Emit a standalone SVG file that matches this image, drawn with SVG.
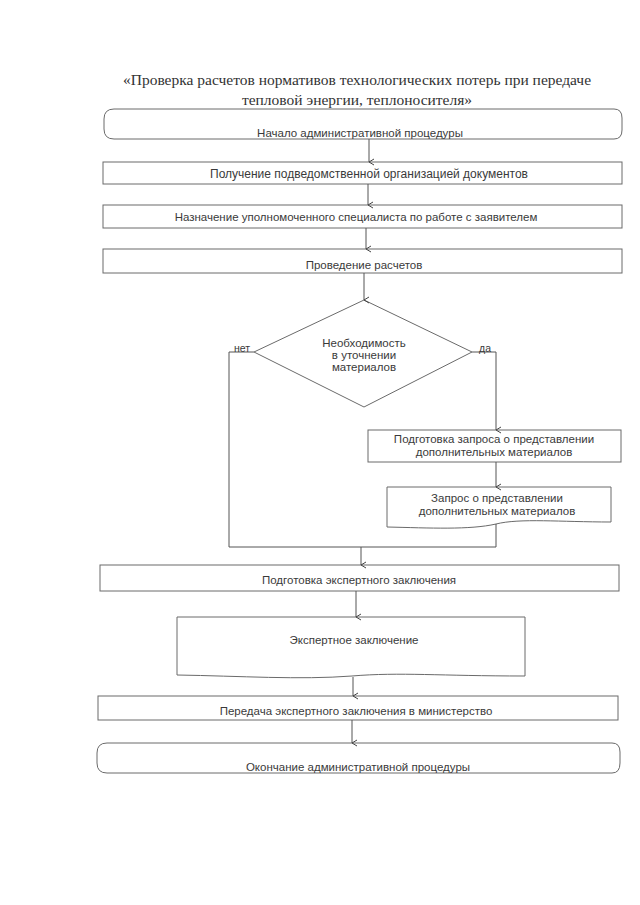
<svg xmlns="http://www.w3.org/2000/svg" width="640" height="905" viewBox="0 0 640 905">
<style>
.box{fill:none;stroke:#6a6a6a;stroke-width:1}
.t{font-family:"Liberation Sans",Arial,sans-serif;font-size:11.5px;fill:#3a3a3a;text-anchor:middle}
.title{font-family:"Liberation Serif","Times New Roman",serif;font-size:15.5px;fill:#333;text-anchor:middle}
.c{fill:none;stroke:#555;stroke-width:1}
</style>
<defs>
<marker id="ar" markerWidth="8" markerHeight="8" refX="4" refY="7" orient="auto" markerUnits="userSpaceOnUse" viewBox="0 0 8 8">
<path d="M1,2 L4,7 L7,2" fill="none" stroke="#444" stroke-width="1"/>
</marker>
</defs>
<rect width="640" height="905" fill="#fff"/>
<g id="title">
<text class="title" x="357" y="85">«Проверка расчетов нормативов технологических потерь при передаче</text>
<text class="title" x="357" y="105">тепловой энергии, теплоносителя»</text>
</g>
<g id="start">
<path class="box" d="M114,109 H614 Q622,109 622,118 V130 Q622,139 614,139 H114 Q104,139 104,129 V119 Q104,109 114,109 Z"/>
<text class="t" x="360" y="137">Начало административной процедуры</text>
</g>
<g id="n2">
<rect class="box" x="103" y="162" width="519" height="22"/>
<text class="t" x="369" y="178" style="font-size:12px">Получение подведомственной организацией документов</text>
</g>
<g id="n3">
<rect class="box" x="103" y="205" width="519" height="23"/>
<text class="t" x="356" y="221">Назначение уполномоченного специалиста по работе с заявителем</text>
</g>
<g id="n4">
<rect class="box" x="103" y="249" width="519" height="24"/>
<text class="t" x="364" y="269">Проведение расчетов</text>
</g>
<g id="decision">
<polygon class="box" points="364,300 472,352 364,407 254,352"/>
<text class="t" x="364" y="347">Необходимость</text>
<text class="t" x="364" y="359">в уточнении</text>
<text class="t" x="364" y="371">материалов</text>
</g>
<g id="n5">
<rect class="box" x="368" y="430" width="253" height="32"/>
<text class="t" x="494" y="443">Подготовка запроса о представлении</text>
<text class="t" x="494" y="456">дополнительных материалов</text>
</g>
<g id="n6">
<path class="box" d="M387,487 H611 V522 C560,522 520,518 496,524 C470,530 430,528 387,527 Z"/>
<text class="t" x="497" y="502">Запрос о представлении</text>
<text class="t" x="497" y="515">дополнительных материалов</text>
</g>
<g id="n7">
<rect class="box" x="100" y="565" width="519" height="26"/>
<text class="t" x="359" y="584">Подготовка экспертного заключения</text>
</g>
<g id="n8">
<path class="box" d="M177,617 H525 V676 C440,676 400,672 352,676 C300,680 240,676 177,675 Z"/>
<text class="t" x="354" y="644">Экспертное заключение</text>
</g>
<g id="n9">
<rect class="box" x="98" y="696" width="520" height="24"/>
<text class="t" x="356" y="715">Передача экспертного заключения в министерство</text>
</g>
<g id="end">
<path class="box" d="M107,743 H612 Q620,743 620,752 V763 Q620,773 612,773 H107 Q97,773 97,763 V753 Q97,743 107,743 Z"/>
<text class="t" x="358" y="771">Окончание административной процедуры</text>
</g>
<g id="connectors">
<line class="c" x1="369" y1="139" x2="369" y2="162" marker-end="url(#ar)"/>
<line class="c" x1="368" y1="184" x2="368" y2="205" marker-end="url(#ar)"/>
<line class="c" x1="366" y1="228" x2="366" y2="249" marker-end="url(#ar)"/>
<line class="c" x1="364" y1="273" x2="364" y2="300" marker-end="url(#ar)"/>
<polyline class="c" points="472,352 496,352 496,430" marker-end="url(#ar)"/>
<line class="c" x1="496" y1="462" x2="496" y2="487" marker-end="url(#ar)"/>
<polyline class="c" points="254,352 229,352 229,547 496,547 496,524"/>
<line class="c" x1="361" y1="547" x2="361" y2="565" marker-end="url(#ar)"/>
<line class="c" x1="356" y1="591" x2="356" y2="617" marker-end="url(#ar)"/>
<line class="c" x1="353" y1="677" x2="353" y2="696" marker-end="url(#ar)"/>
<line class="c" x1="352" y1="720" x2="352" y2="743" marker-end="url(#ar)"/>
<text class="t" x="242" y="352" style="font-size:10.5px">нет</text>
<text class="t" x="485" y="352" style="font-size:10.5px">да</text>
</g>
</svg>
